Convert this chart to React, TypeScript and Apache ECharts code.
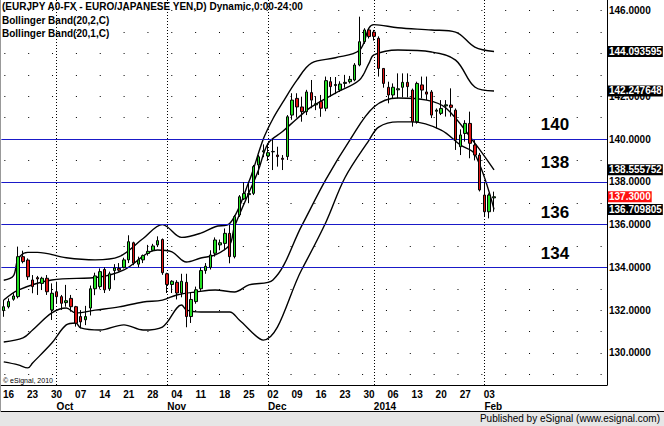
import React, { useEffect, useRef } from 'react';
import * as echarts from 'echarts';

// ---- categories: weekdays starting 2013-09-13 ----
const firstDay = '2013-09-13';
const dayCount = 126;
const dates: string[] = (() => {
  const out: string[] = [];
  const d = new Date(firstDay + 'T00:00:00Z');
  while (out.length < dayCount) {
    const wd = d.getUTCDay();
    if (wd !== 0 && wd !== 6) out.push(d.toISOString().slice(0, 10));
    d.setUTCDate(d.getUTCDate() + 1);
  }
  return out;
})();
const lastLabelDate = '2014-02-03';
const monthEndDates = ['2013-09-30', '2013-10-31', '2013-11-29', '2013-12-31', '2014-01-31'];
const monthLabels = ['Oct', 'Nov', 'Dec', '2014', 'Feb'];

// ---- candles (index 0 = 2013-09-13) ----
const opens = [131.98,132.16,132.51,132.63,134.5,134.34,133.41,133.52,133.25,133.49,132.01,132.86,132.63,132.35,132.55,132.16,131.7,131.55,132.1,133.0,133.1,133.9,133.0,133.85,133.95,134.0,134.35,135.15,134.15,134.35,134.65,134.8,135.05,135.3,133.7,133.2,133.3,132.8,133.3,131.7,132.4,133.0,133.85,134.0,134.66,135.05,135.12,135.59,134.5,136.45,137.2,137.4,137.46,138.79,139.4,139.21,139.4,139.25,139.1,139.18,141.12,141.9,141.5,141.28,142.17,141.6,141.75,141.44,142.68,142.5,142.29,142.6,142.68,142.76,143.46,144.55,145.1,145.0,144.71,143.3,142.42,142.06,142.3,142.42,142.65,142.29,140.81,142.53,142.2,142.2,141.3,141.2,141.55,141.59,141.35,139.64,140.26,140.73,139.72,139.25,137.38,136.6,137.25];
const closes = [132.16,132.4,132.66,134.5,134.27,133.56,133.1,133.46,133.49,132.86,132.79,132.63,132.32,132.44,132.16,131.39,131.45,131.7,133.0,133.6,133.8,132.95,133.7,133.97,133.87,134.35,135.2,134.2,134.35,134.55,134.75,135.0,135.25,133.75,133.2,133.35,132.8,133.35,131.7,132.5,132.95,133.85,134.05,134.58,135.28,135.15,135.59,134.5,136.37,137.3,137.45,137.45,138.71,139.17,139.45,139.36,139.42,139.18,139.05,141.04,141.82,141.5,141.28,142.2,141.82,141.65,141.44,142.73,142.45,142.55,142.57,142.65,142.79,143.46,144.55,145.1,144.79,144.8,143.3,142.6,142.06,142.42,142.35,142.65,142.45,140.81,142.6,142.29,142.1,141.12,141.35,141.43,141.6,141.48,139.95,140.19,140.73,139.8,139.25,137.62,136.6,137.38,137.3];
const lows = [131.69,132.08,132.44,132.55,134.19,133.41,132.79,132.71,132.94,132.71,131.54,132.32,132.01,132.16,131.93,131.23,131.15,131.3,131.75,132.7,133.0,132.8,132.9,133.4,133.8,133.95,134.2,134.1,134.0,134.2,134.55,134.75,134.95,133.65,132.8,132.8,132.5,132.6,131.2,131.4,132.3,132.9,133.7,133.9,134.5,134.8,134.8,134.19,134.42,136.36,137.15,137.0,137.38,138.32,139.15,139.0,138.55,138.71,138.55,139.02,140.9,141.0,140.81,141.12,141.44,141.35,141.04,141.3,141.98,142.1,142.2,142.4,142.6,142.7,143.4,144.45,144.7,144.6,142.92,142.4,141.67,141.9,141.9,141.95,141.95,140.58,140.72,141.9,141.82,140.98,140.5,141.12,141.05,141.05,139.49,139.25,139.88,139.1,139.0,137.55,136.37,136.29,136.6];
const highs = [132.48,132.55,132.79,134.97,134.78,134.42,133.64,133.6,133.56,133.64,133.25,133.33,132.71,133.18,132.71,132.2,132.0,132.2,133.15,133.75,133.95,134.0,133.8,134.15,134.2,134.45,135.5,135.2,134.5,134.6,135.05,135.1,135.45,135.35,133.75,133.4,133.4,133.7,133.7,132.8,133.1,134.0,134.2,134.8,135.4,135.3,135.82,135.98,136.45,137.38,137.98,138.0,138.79,139.25,139.75,139.8,140.0,139.64,139.25,141.12,142.14,142.14,141.98,142.3,142.76,142.0,142.06,142.92,142.9,142.9,142.7,143.0,142.95,143.55,145.72,145.18,145.18,145.1,144.8,143.3,142.68,142.6,143.07,143.07,143.07,142.36,142.68,142.92,142.92,142.29,141.43,141.82,141.82,142.37,141.43,140.45,140.88,141.28,139.95,139.35,138.0,137.46,137.54];

// ---- Bollinger bands: [day index, value] ----
const upper2 = [[0,133.4],[2,133.6],[3,134.4],[5,134.7],[7,134.7],[13,134.45],[19,134.35],[24,134.5],[29,135.35],[33,136.0],[34,135.9],[37,135.4],[41,135.6],[44,135.9],[47,136.05],[51,138.0],[54,140.0],[56,140.95],[58,141.7],[61,142.75],[64,143.55],[69,143.8],[74,144.15],[76,145.2],[77,145.35],[82,145.2],[89,145.1],[94,145.0],[98,144.3],[102,144.093595]];
const upper1 = [[0,132.47],[3,132.94],[10,133.41],[20,133.55],[25,133.88],[32,134.81],[35,134.72],[38,134.25],[41,134.44],[44,134.58],[47,135.05],[48,135.9],[52,138.0],[53,138.55],[55,139.8],[58,140.35],[61,140.95],[64,141.5],[69,142.15],[74,142.76],[76,143.55],[77,143.93],[82,144.16],[89,144.07],[94,143.69],[98,142.43],[102,142.247648]];
const lower1 = [[0,130.51],[4,130.7],[6,131.07],[10,131.87],[13,132.1],[15,131.87],[19,132.0],[24,132.15],[29,132.38],[33,132.47],[36,132.71],[40,132.85],[44,132.94],[48,132.85],[51,133.18],[56,133.41],[62,135.95],[67,138.1],[72,139.95],[77,141.5],[82,141.92],[88,141.82],[92,141.45],[98,139.81],[102,138.555752]];
const lower2 = [[0,129.58],[3,129.44],[5,129.3],[6,129.53],[10,130.46],[13,131.31],[15,131.4],[16,131.17],[20,131.07],[25,131.31],[29,131.07],[33,131.21],[37,132.24],[38,132.01],[41,131.91],[47,131.91],[49,131.54],[54,130.6],[62,133.9],[67,136.1],[71,138.2],[76,139.95],[78,140.56],[82,140.8],[85,140.8],[91,140.42],[95,139.72],[98,139.3],[102,136.709805]];

// ---- levels & axis ----
const levelLines = [140, 138, 136, 134];
const levelTexts = ['140', '138', '136', '134'];
const yLabelValues = [130, 132, 134, 136, 138, 140, 142, 146];
const dotRows = [129,130,131,132,133,134,135,136,137,138,139,140,141,142,143,144,145,146];
const bandTags = [144.093595, 142.247648, 138.555752, 136.709805];
const lastClose = 137.3;

const FONT = '"Liberation Sans", Arial, sans-serif';

export default function App() {
  const ref = useRef<HTMLDivElement>(null);
  useEffect(() => {
    if (!ref.current) return;
    const chart = echarts.init(ref.current, undefined, { renderer: 'svg' });
    const candles = opens.map((o, i) => [o, closes[i], lows[i], highs[i]]);
    const mondayIdx = (i: number) => {
      const d = new Date(dates[i] + 'T00:00:00Z');
      return d.getUTCDay() === 1 && dates[i] <= lastLabelDate;
    };
    const bandLine = (data: number[][]) => ({
      type: 'line', data, showSymbol: false, symbol: 'none', smooth: 0.35,
      lineStyle: { color: '#000', width: 1.4 }, z: 3, silent: true,
    });
    const labelYs = [124, 162, 212, 253];
    chart.setOption({
      animation: false,
      backgroundColor: '#fff',
      grid: { left: 0, top: 0, width: 607, height: 385, containLabel: false },
      xAxis: [
        {
          type: 'category', data: dates, boundaryGap: true,
          axisLine: { show: true, lineStyle: { color: '#000', width: 1 } },
          axisTick: { show: false },
          axisLabel: {
            interval: (i: number) => mondayIdx(i),
            formatter: (v: string) => v.slice(8, 10),
            color: '#000', fontWeight: 'bold', fontSize: 10, fontFamily: FONT, margin: 4,
          },
          splitLine: { show: false },
        },
        {
          type: 'category', data: dates, boundaryGap: true, position: 'bottom',
          axisLine: { show: false }, axisTick: { show: false },
          axisLabel: {
            interval: (i: number) => monthEndDates.includes(dates[i]),
            formatter: (v: string) => monthLabels[monthEndDates.indexOf(v)] || '',
            align: 'left', color: '#000', fontWeight: 'bold', fontSize: 10, fontFamily: FONT, margin: 16,
          },
          splitLine: { show: false },
        },
      ],
      yAxis: {
        type: 'value', position: 'right', min: 128.5, max: 146.5, scale: true,
        axisLine: { show: true, lineStyle: { color: '#000', width: 1 } },
        axisTick: { show: false },
        splitLine: { show: false },
        axisLabel: {
          customValues: yLabelValues,
          formatter: (v: number) => v.toFixed(4),
          color: '#000', fontWeight: 'bold', fontSize: 10, fontFamily: FONT, margin: 2,
        },
      },
      series: [
        {
          type: 'line', data: [], silent: true, z: 1,
          markLine: {
            silent: true, symbol: ['none', 'none'], animation: false,
            label: { show: false },
            data: [
              ...dotRows.map((v) => ({ yAxis: v, lineStyle: { color: '#000', width: 1, type: [1, 22.85], dashOffset: -3 } })),
              ...monthEndDates.map((d) => ({ xAxis: d, lineStyle: { color: '#000', width: 1, type: [1, 2] } })),
              ...levelLines.map((v) => ({ yAxis: v, lineStyle: { color: '#1a1ac8', width: 1.2, type: 'solid' } })),
            ],
          },
        },
        bandLine(upper2), bandLine(upper1), bandLine(lower1), bandLine(lower2),
        {
          type: 'candlestick', data: candles, barWidth: 3, z: 5,
          itemStyle: { color: '#22e022', color0: '#e01414', borderColor: '#000', borderColor0: '#000', borderWidth: 1 },
        },
        {
          type: 'line', data: [], silent: true, z: 20,
          markLine: {
            silent: true, symbol: ['none', 'none'], animation: false,
            lineStyle: { color: 'rgba(0,0,0,0)', width: 1 },
            label: {
              show: true, position: 'end', distance: 1, color: '#fff', backgroundColor: '#000',
              fontWeight: 'bold', fontSize: 10, fontFamily: FONT, padding: [1, 1, 0, 1],
            },
            data: [
              ...bandTags.map((v) => ({ yAxis: v, label: { formatter: String(v) } })),
              { yAxis: lastClose, label: { formatter: lastClose.toFixed(4), backgroundColor: '#ff1010' } },
            ],
          },
        },
      ],
      graphic: [
        { type: 'rect', shape: { x: 0, y: 412, width: 664, height: 14 }, style: { fill: '#e6e6e6' }, silent: true },
        { type: 'line', shape: { x1: 0, y1: 411.5, x2: 664, y2: 411.5 }, style: { stroke: '#000', lineWidth: 1 }, silent: true },
        { type: 'line', shape: { x1: 0.5, y1: 0, x2: 0.5, y2: 412 }, style: { stroke: '#999', lineWidth: 1 }, silent: true },
        { type: 'text', x: 2, y: 1, style: { text: '(EURJPY A0-FX - EURO/JAPANESE YEN,D) Dynamic,0:00-24:00', font: `bold 10px ${FONT}`, fill: '#000' }, silent: true },
        { type: 'text', x: 2, y: 15, style: { text: 'Bollinger Band(20,2,C)', font: `bold 10px ${FONT}`, fill: '#000' }, silent: true },
        { type: 'text', x: 2, y: 28, style: { text: 'Bollinger Band(20,1,C)', font: `bold 10px ${FONT}`, fill: '#000' }, silent: true },
        { type: 'text', x: 3, y: 377, style: { text: '© eSignal, 2010', font: `7px ${FONT}`, fill: '#000' }, silent: true },
        { type: 'text', x: 660, y: 413, style: { text: 'Published by eSignal (www.esignal.com)', font: `10px ${FONT}`, fill: '#000', align: 'right' }, silent: true },
        ...levelTexts.map((t, k) => ({
          type: 'text', x: 555, y: labelYs[k], silent: true,
          style: { text: t, font: `bold 17px ${FONT}`, fill: '#000', align: 'center', verticalAlign: 'middle' },
        })),
      ],
    });
    return () => chart.dispose();
  }, []);
  return <div ref={ref} style={{ position: 'fixed', left: 0, top: 0, width: 664, height: 426, background: '#fff' }} />;
}
